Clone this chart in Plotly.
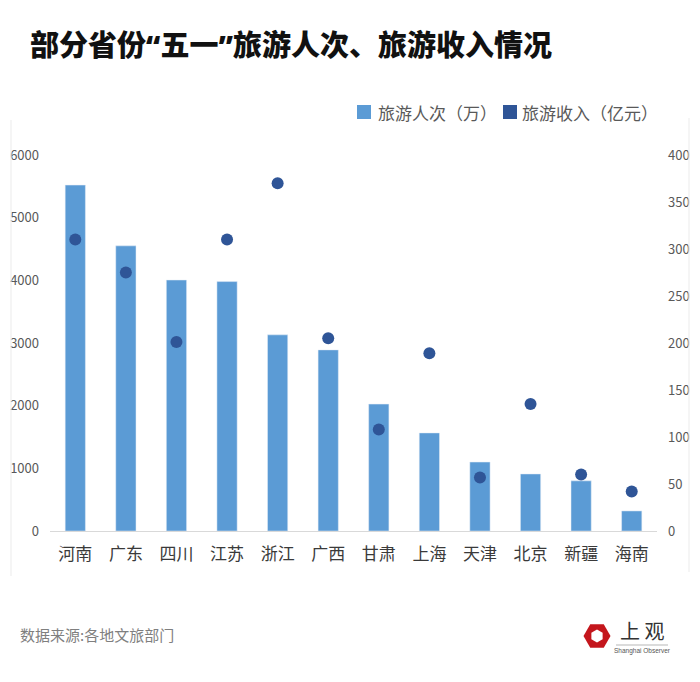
import plotly.graph_objects as go
import math

provinces = ["河南", "广东", "四川", "江苏", "浙江", "广西", "甘肃", "上海", "天津", "北京", "新疆", "海南"]
visitors = [5520, 4550, 4005, 3980, 3130, 2890, 2025, 1565, 1100, 910, 800, 320]   # 旅游人次（万）
revenue = [310, 275, 201, 310, 370, 205, 108, 189, 57, 135, 60, 42]                # 旅游收入（亿元）
left_ticks = [0, 1000, 2000, 3000, 4000, 5000, 6000]
right_ticks = [0, 50, 100, 150, 200, 250, 300, 350, 400]
legend_names = ["旅游人次（万）", "旅游收入（亿元）"]

BAR = "#5B9BD5"
DOT = "#2F5597"
FONT = "Noto Sans CJK SC"

fig = go.Figure()
fig.add_trace(go.Bar(x=provinces, y=visitors, marker_color=BAR, width=0.4,
                     name=legend_names[0], showlegend=False, yaxis="y"))
fig.add_trace(go.Scatter(x=provinces, y=revenue, mode="markers", name=legend_names[1],
                         marker=dict(color=DOT, size=12), showlegend=False, yaxis="y2"))

fig.update_layout(
    width=700, height=682,
    margin=dict(l=50, r=43, t=155, b=151, autoexpand=False),
    paper_bgcolor="white", plot_bgcolor="white",
    font=dict(family=FONT, color="#595959"),
    showlegend=False,
    xaxis=dict(range=[-0.5, len(provinces) - 0.5], showgrid=False, showline=True,
               linecolor="#d9d9d9", linewidth=1,
               ticks="", tickfont=dict(size=17, color="#3a3a3a"), ticklabelstandoff=8,
               automargin=False),
    yaxis=dict(range=[0, 6000], tickvals=left_ticks, showgrid=False, zeroline=False,
               showline=False, tickfont=dict(size=13, color="#595959"),
               ticklabelstandoff=10, automargin=False),
    yaxis2=dict(range=[0, 400], tickvals=right_ticks, overlaying="y", side="right",
                showgrid=False, zeroline=False, showline=False,
                tickfont=dict(size=13, color="#595959"), ticklabelstandoff=10,
                automargin=False),
)

def px(xp):
    return (xp - 50) / 607
def py(yp):
    return (531 - yp) / 376

# title
fig.add_annotation(text="部分省份“五一”旅游人次、旅游收入情况", xref="paper", yref="paper",
                   x=px(28), y=py(45), xanchor="left", yanchor="middle",
                   showarrow=False,
                   font=dict(size=29, color="#111111", family="Noto Sans, " + FONT, weight=900))

# legend (manual)
for (sx, tx), name, col in zip([(357, 376), (503, 520)], legend_names, [BAR, DOT]):
    fig.add_shape(type="rect", xref="paper", yref="paper", x0=px(sx), x1=px(sx + 14),
                  y0=py(119), y1=py(105), fillcolor=col, line=dict(width=0))
    fig.add_annotation(text=name, xref="paper", yref="paper", x=px(tx), y=py(112),
                       xanchor="left", yanchor="middle", showarrow=False,
                       font=dict(size=17, color="#595959", family=FONT))

# source
fig.add_annotation(text="数据来源:各地文旅部门", xref="paper", yref="paper",
                   x=px(18), y=py(634), xanchor="left", yanchor="middle",
                   showarrow=False, font=dict(size=15, color="#7f7f7f", family=FONT))

# faint frame lines on both sides
fig.add_shape(type="line", xref="paper", yref="paper", x0=px(11), x1=px(11), y0=py(120), y1=py(576),
              line=dict(color="#ebebeb", width=1))
fig.add_shape(type="line", xref="paper", yref="paper", x0=px(689), x1=px(689), y0=py(118), y1=py(572),
              line=dict(color="#ebebeb", width=1))

# logo: red hexagon with white inner hexagon
cx, cy = 597, 636
def hexpath(r, rot):
    pts = []
    for k in range(6):
        a = math.radians(rot + 60 * k)
        pts.append((px(cx + r * math.cos(a)), py(cy + r * math.sin(a))))
    return "M " + " L ".join(f"{x:.5f},{y:.5f}" for x, y in pts) + " Z"
fig.add_shape(type="path", xref="paper", yref="paper", path=hexpath(13.5, 0),
              fillcolor="#C4161C", line=dict(width=0))
fig.add_shape(type="path", xref="paper", yref="paper", path=hexpath(6.5, 30),
              fillcolor="white", line=dict(width=0))
fig.add_annotation(text="上 观", xref="paper", yref="paper", x=px(642), y=py(630),
                   xanchor="center", yanchor="middle", showarrow=False, borderpad=0,
                   font=dict(size=20, color="#333333", family="Noto Sans CJK SC"))
fig.add_shape(type="line", xref="paper", yref="paper", x0=px(616), x1=px(668), y0=py(645), y1=py(645),
              line=dict(color="#999999", width=0.7))
fig.add_annotation(text="Shanghai Observer", xref="paper", yref="paper", x=px(642), y=py(651),
                   xanchor="center", yanchor="middle", showarrow=False, borderpad=0,
                   font=dict(size=6.5, color="#555555", family="Liberation Sans"))

fig.write_html("out.html", config={"displayModeBar": False},
               post_script="document.body.style.margin='0';")
